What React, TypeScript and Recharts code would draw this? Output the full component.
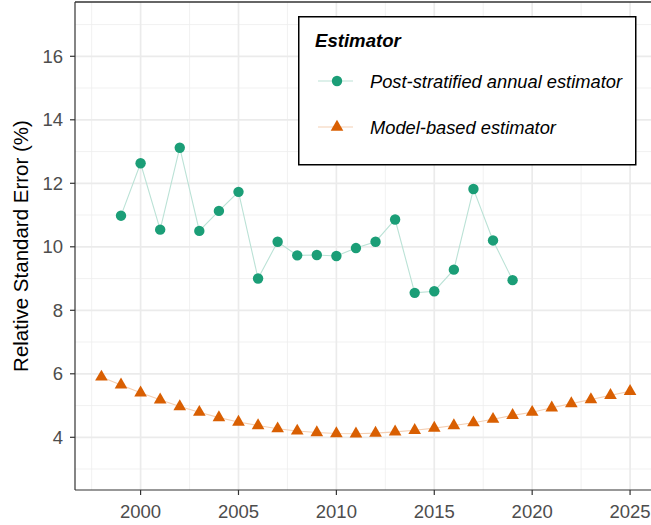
import React from 'react';
import { LineChart, Line, XAxis, YAxis, CartesianGrid, ReferenceLine } from 'recharts';

const years = [1998, 1999, 2000, 2001, 2002, 2003, 2004, 2005, 2006, 2007, 2008, 2009, 2010, 2011, 2012, 2013, 2014, 2015, 2016, 2017, 2018, 2019, 2020, 2021, 2022, 2023, 2024, 2025];
const postYears = [1999, 2000, 2001, 2002, 2003, 2004, 2005, 2006, 2007, 2008, 2009, 2010, 2011, 2012, 2013, 2014, 2015, 2016, 2017, 2018, 2019];
const postValues = [10.98, 12.63, 10.54, 13.12, 10.5, 11.13, 11.73, 9.0, 10.16, 9.73, 9.74, 9.71, 9.96, 10.16, 10.86, 8.55, 8.6, 9.28, 11.82, 10.2, 8.95];
const modelValues = [5.9, 5.65, 5.4, 5.18, 4.97, 4.79, 4.62, 4.48, 4.37, 4.27, 4.2, 4.15, 4.12, 4.11, 4.13, 4.17, 4.22, 4.29, 4.37, 4.46, 4.57, 4.69, 4.79, 4.93, 5.06, 5.19, 5.32, 5.45];

const xTicks = [2000, 2005, 2010, 2015, 2020, 2025];
const yTicks = [4, 6, 8, 10, 12, 14, 16];
const xMinor = [1997.5, 2002.5, 2007.5, 2012.5, 2017.5, 2022.5];
const yMinor = [3, 5, 7, 9, 11, 13, 15, 17];

const seriesNames = ['Post-stratified annual estimator', 'Model-based estimator'];
const legendTitle = 'Estimator';
const yLabel = 'Relative Standard Error (%)';

const GREEN = '#1b9e77';
const GREEN_LINE = '#bbe2d6';
const ORANGE = '#d95f02';
const ORANGE_LINE = '#f4cfb3';
const FONT = '"Liberation Sans", Arial, Helvetica, sans-serif';

const data = years.map((y, i) => {
  const pi = postYears.indexOf(y);
  return { year: y, post: pi >= 0 ? postValues[pi] : null, model: modelValues[i] };
});

const triPath = (cx: number, cy: number, r: number) => {
  const xc = r * 0.866;
  return `M${cx},${cy - r}L${cx + xc},${cy + r / 2}L${cx - xc},${cy + r / 2}Z`;
};

const CircleDot = (props: any) => {
  const { cx, cy, index } = props;
  if (cx == null || cy == null || props.value == null) return <g key={`c${index}`} />;
  return <circle key={`c${index}`} cx={cx} cy={cy} r={5.2} fill={GREEN} stroke="none" />;
};

const TriDot = (props: any) => {
  const { cx, cy, index } = props;
  if (cx == null || cy == null) return <g key={`t${index}`} />;
  return <path key={`t${index}`} d={triPath(cx, cy, 7.3)} fill={ORANGE} stroke="none" />;
};

const YLabel = (props: any) => {
  const vb = props.viewBox || {};
  const cy = (vb.y ?? 2) + (vb.height ?? 488) / 2;
  const x = 20;
  return (
    <text x={x} y={cy} transform={`rotate(-90, ${x}, ${cy})`} textAnchor="middle" dominantBaseline="central"
      fontFamily={FONT} fontSize={20.5} fill="#000">{yLabel}</text>
  );
};

export default function App() {
  return (
    <div style={{ position: 'absolute', left: 0, top: 0, width: 651, height: 525, overflow: 'hidden', background: '#fff' }}>
      <LineChart width={660} height={525} data={data} margin={{ top: 2, right: 3.5, bottom: 0, left: 0 }}>
        <CartesianGrid horizontalValues={yMinor} verticalValues={xMinor} stroke="#ededed" strokeWidth={0.8} />
        <CartesianGrid horizontalValues={yTicks} verticalValues={xTicks} stroke="#ebebeb" strokeWidth={1.7} />
        <XAxis type="number" dataKey="year" domain={[1996.65, 2026.35]} allowDataOverflow ticks={xTicks}
          height={35} tickSize={5} tickMargin={10} stroke="#333" strokeWidth={1.2}
          tick={{ fill: '#4d4d4d', fontSize: 18.5, fontFamily: FONT }} />
        <YAxis type="number" domain={[2.34, 17.71]} allowDataOverflow ticks={yTicks} width={75}
          tickSize={5} tickMargin={7} stroke="#333" strokeWidth={1.2}
          tick={{ fill: '#4d4d4d', fontSize: 18.5, fontFamily: FONT }} label={<YLabel />} />
        <ReferenceLine y={17.71} stroke="#333" strokeWidth={1.4} ifOverflow="visible" />
        <Line dataKey="model" stroke={ORANGE_LINE} strokeWidth={1.1} dot={<TriDot />} activeDot={false} isAnimationActive={false} />
        <Line dataKey="post" stroke={GREEN_LINE} strokeWidth={1.1} dot={<CircleDot />} activeDot={false} isAnimationActive={false} connectNulls={false} />
      </LineChart>
      <svg width={339} height={150} style={{ position: 'absolute', left: 298, top: 16 }}>
        <rect x={0.75} y={0.75} width={337} height={148} fill="#fff" stroke="#000" strokeWidth={1.5} />
        <text x={17} y={31} fontFamily={FONT} fontSize={18.6} fontWeight="bold" fontStyle="italic" fill="#000">{legendTitle}</text>
        <line x1={20} y1={65} x2={55} y2={65} stroke={GREEN_LINE} strokeWidth={1.1} />
        <circle cx={39} cy={65} r={5.2} fill={GREEN} />
        <text x={72} y={71.5} fontFamily={FONT} fontSize={18.3} fontStyle="italic" fill="#000">{seriesNames[0]}</text>
        <line x1={20} y1={111} x2={55} y2={111} stroke={ORANGE_LINE} strokeWidth={1.1} />
        <path d={triPath(39, 111, 7.3)} fill={ORANGE} />
        <text x={72} y={117.5} fontFamily={FONT} fontSize={18.3} fontStyle="italic" fill="#000">{seriesNames[1]}</text>
      </svg>
    </div>
  );
}
